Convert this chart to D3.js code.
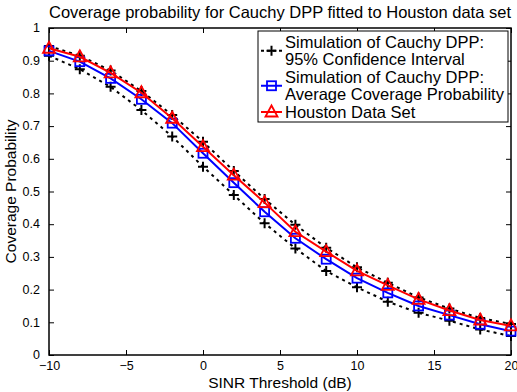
<!DOCTYPE html>
<html>
<head>
<meta charset="utf-8">
<script src="https://cdn.jsdelivr.net/npm/d3@7"></script>
<style>
  body { margin: 0; background: #fff; }
  text { font-family: "Liberation Sans", Arial, sans-serif; }
</style>
</head>
<body>
<script>
var thresholds = [-10, -8, -6, -4, -2, 0, 2, 4, 6, 8, 10, 12, 14, 16, 18, 20];
var ciUpper = [0.945, 0.915, 0.870, 0.807, 0.734, 0.652, 0.563, 0.477, 0.398, 0.328, 0.268, 0.221, 0.176, 0.142, 0.113, 0.095];
var ciLower = [0.915, 0.874, 0.820, 0.749, 0.668, 0.576, 0.489, 0.403, 0.326, 0.257, 0.207, 0.163, 0.129, 0.105, 0.078, 0.058];
var avgCoverage = [0.930, 0.897, 0.846, 0.782, 0.709, 0.617, 0.527, 0.438, 0.357, 0.293, 0.235, 0.190, 0.150, 0.122, 0.094, 0.073];
var houston = [0.938, 0.912, 0.863, 0.802, 0.724, 0.637, 0.550, 0.466, 0.377, 0.316, 0.257, 0.213, 0.170, 0.136, 0.107, 0.089];
var xTicks = [-10, -5, 0, 5, 10, 15, 20];
var yTicks = [0, 0.1, 0.2, 0.3, 0.4, 0.5, 0.6, 0.7, 0.8, 0.9, 1];
var legendLabels = [
    ["Simulation of Cauchy DPP:", "95% Confidence Interval"],
    ["Simulation of Cauchy DPP:", "Average Coverage Probability"],
    ["Houston Data Set"]];

var width = 517, height = 392;
var margin = { left: 49, right: 511, top: 28, bottom: 355 };

var svg = d3.select("body").append("svg")
    .attr("width", width)
    .attr("height", height);

var x = d3.scaleLinear().domain([-10, 20]).range([margin.left, margin.right]);
var y = d3.scaleLinear().domain([0, 1]).range([margin.bottom, margin.top]);

// box + inward ticks on all sides
svg.append("rect")
    .attr("x", margin.left).attr("y", margin.top)
    .attr("width", margin.right - margin.left).attr("height", margin.bottom - margin.top)
    .attr("fill", "none").attr("stroke", "#000").attr("stroke-width", 1.5);

var tickLen = 5;
var fmtX = function (d) { return d < 0 ? "\u2212" + Math.abs(d) : String(d); };

var xAxis = svg.append("g").attr("transform", "translate(0," + margin.bottom + ")")
    .call(d3.axisBottom(x).tickValues(xTicks).tickSizeInner(-tickLen).tickSizeOuter(0).tickPadding(7).tickFormat(fmtX));
var xAxisTop = svg.append("g").attr("transform", "translate(0," + margin.top + ")")
    .call(d3.axisTop(x).tickValues(xTicks).tickSizeInner(-tickLen).tickSizeOuter(0).tickFormat(""));
var yAxis = svg.append("g").attr("transform", "translate(" + margin.left + ",0)")
    .call(d3.axisLeft(y).tickValues(yTicks).tickSizeInner(-tickLen).tickSizeOuter(0).tickPadding(9).tickFormat(d3.format("~g")));
var yAxisRight = svg.append("g").attr("transform", "translate(" + margin.right + ",0)")
    .call(d3.axisRight(y).tickValues(yTicks).tickSizeInner(-tickLen).tickSizeOuter(0).tickFormat(""));

[xAxis, xAxisTop, yAxis, yAxisRight].forEach(function (g) {
    g.select(".domain").remove();
    g.selectAll("line").attr("stroke", "#000").attr("stroke-width", 1);
    g.selectAll("text").attr("font-family", "Liberation Sans, Arial, sans-serif").attr("font-size", 12.5).attr("fill", "#000");
});
xAxis.selectAll("text").attr("dy", "0.6em");
yAxis.selectAll("text").attr("dy", "0.3em");

var line = d3.line()
    .x(function (d) { return x(d[0]); })
    .y(function (d) { return y(d[1]); });

function pairs(vals) {
    return thresholds.map(function (t, i) { return [t, vals[i]]; });
}

var plot = svg.append("g");

// confidence interval (dashed black with plus markers)
[ciUpper, ciLower].forEach(function (vals) {
    plot.append("path")
        .datum(pairs(vals))
        .attr("d", line)
        .attr("fill", "none").attr("stroke", "#000")
        .attr("stroke-width", 2).attr("stroke-dasharray", "3,4");
});
var plusPath = "M-5,0H5M0,-5V5";
[ciUpper, ciLower].forEach(function (vals) {
    plot.selectAll(null)
        .data(pairs(vals))
        .enter().append("path")
        .attr("transform", function (d) { return "translate(" + x(d[0]) + "," + y(d[1]) + ")"; })
        .attr("d", plusPath)
        .attr("stroke", "#000").attr("stroke-width", 2);
});

// average coverage (blue squares)
plot.append("path")
    .datum(pairs(avgCoverage))
    .attr("d", line)
    .attr("fill", "none").attr("stroke", "#0000ff").attr("stroke-width", 2);
plot.selectAll(null)
    .data(pairs(avgCoverage))
    .enter().append("rect")
    .attr("x", function (d) { return x(d[0]) - 4.5; })
    .attr("y", function (d) { return y(d[1]) - 4.5; })
    .attr("width", 9).attr("height", 9)
    .attr("fill", "none").attr("stroke", "#0000ff").attr("stroke-width", 1.8);

// Houston (red triangles)
plot.append("path")
    .datum(pairs(houston))
    .attr("d", line)
    .attr("fill", "none").attr("stroke", "#ff0000").attr("stroke-width", 2);
var triPath = "M0,-6.5L6,4.5L-6,4.5Z";
plot.selectAll(null)
    .data(pairs(houston))
    .enter().append("path")
    .attr("transform", function (d) { return "translate(" + x(d[0]) + "," + y(d[1]) + ")"; })
    .attr("d", triPath)
    .attr("fill", "none").attr("stroke", "#ff0000").attr("stroke-width", 1.8);

// legend
var lg = svg.append("g").attr("transform", "translate(258,31)");
lg.append("rect")
    .attr("width", 250).attr("height", 91)
    .attr("fill", "#fff").attr("stroke", "#000").attr("stroke-width", 1);

var lineH = 17.5;
var entries = [
    { color: "#000", dash: "3,3", marker: "plus", row: 0 },
    { color: "#0000ff", dash: null, marker: "square", row: 2 },
    { color: "#ff0000", dash: null, marker: "tri", row: 4 }];
entries.forEach(function (e, i) {
    var nLines = legendLabels[i].length;
    var cy = 11 + lineH * e.row + lineH * (nLines - 1) / 2;
    var item = lg.append("g").attr("transform", "translate(0," + cy + ")");
    item.append("line")
        .attr("x1", 3).attr("x2", 24)
        .attr("stroke", e.color).attr("stroke-width", 2)
        .attr("stroke-dasharray", e.dash);
    if (e.marker === "plus") {
        item.append("path").attr("transform", "translate(13.5,0)").attr("d", plusPath)
            .attr("stroke", e.color).attr("stroke-width", 2);
    } else if (e.marker === "square") {
        item.append("rect").attr("x", 9).attr("y", -4.5).attr("width", 9).attr("height", 9)
            .attr("fill", "none").attr("stroke", e.color).attr("stroke-width", 1.8);
    } else {
        item.append("path").attr("transform", "translate(13.5,0)").attr("d", triPath)
            .attr("fill", "none").attr("stroke", e.color).attr("stroke-width", 1.8);
    }
    legendLabels[i].forEach(function (txt, k) {
        lg.append("text")
            .attr("x", 27)
            .attr("y", 11 + lineH * (e.row + k))
            .attr("dy", "0.35em")
            .attr("font-size", 16.5)
            .text(txt);
    });
});

// titles
svg.append("text")
    .attr("x", (margin.left + margin.right) / 2).attr("y", 18)
    .attr("text-anchor", "middle").attr("font-size", 16.5)
    .text("Coverage probability for Cauchy DPP fitted to Houston data set");
svg.append("text")
    .attr("x", (margin.left + margin.right) / 2).attr("y", 388)
    .attr("text-anchor", "middle").attr("font-size", 15.5)
    .text("SINR Threshold (dB)");
svg.append("text")
    .attr("transform", "translate(16," + ((margin.top + margin.bottom) / 2) + ") rotate(-90)")
    .attr("text-anchor", "middle").attr("font-size", 15.5)
    .text("Coverage Probability");
</script>
</body>
</html>
